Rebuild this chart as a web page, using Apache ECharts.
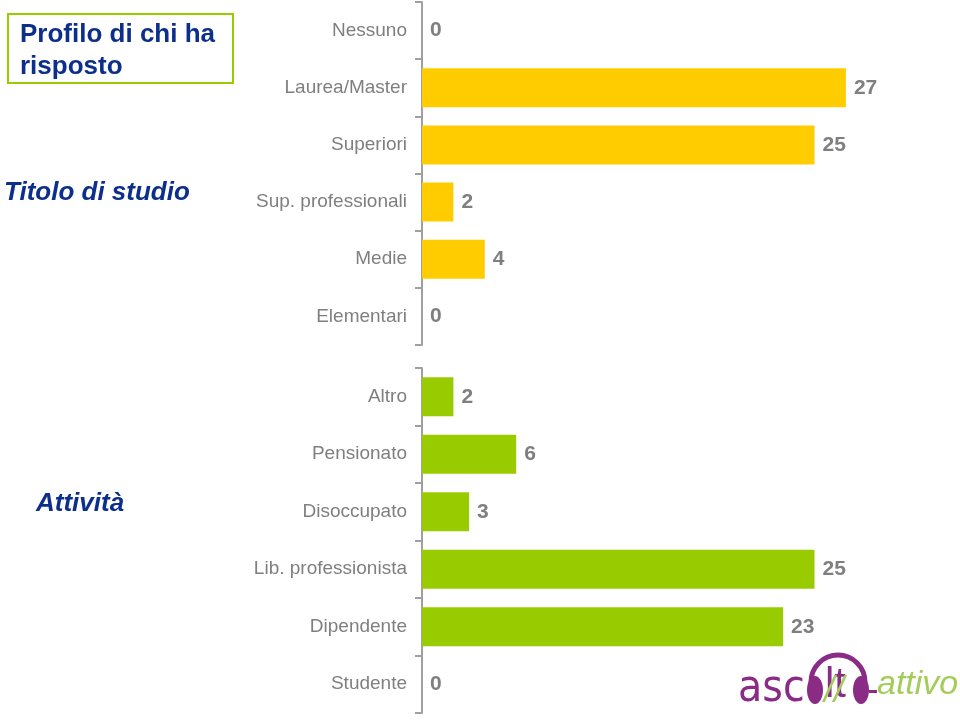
<!DOCTYPE html>
<html><head><meta charset="utf-8">
<script src="https://cdn.jsdelivr.net/npm/echarts@6/dist/echarts.min.js"></script>
<style>html,body{margin:0;padding:0;background:#fff}#c{width:960px;height:721px}</style>
</head><body><div id="c"></div>
<script>
const studioCategories = ['Nessuno','Laurea/Master','Superiori','Sup. professionali','Medie','Elementari'];
const studioValues = [0,27,25,2,4,0];
const attivitaCategories = ['Altro','Pensionato','Disoccupato','Lib. professionista','Dipendente','Studente'];
const attivitaValues = [2,6,3,25,23,0];
const chartTitleLines = ['Profilo di chi ha','risposto'];
const groupLabels = ['Titolo di studio','Attività'];

const blue = '#0d2f8c';
const axisGrey = '#a0a0a0';
const labelGrey = '#7f7f7f';
const purple = '#8a2b86';
const logoGreen = '#a3cc5a';

const chart = echarts.init(document.getElementById('c'), null, {renderer:'canvas'});
function yAx(gi, cats){
  return {type:'category', gridIndex:gi, data:cats, inverse:true,
    axisLine:{show:true, lineStyle:{color:axisGrey, width:2}},
    axisTick:{show:true, length:7, lineStyle:{color:axisGrey, width:2}},
    axisLabel:{color:labelGrey, fontSize:19, fontFamily:'Liberation Sans, Arial', margin:15, padding:[3,0,0,0]},
    splitLine:{show:false}};
}
function xAx(gi){ return {type:'value', gridIndex:gi, min:0, max:30, show:false}; }
function barSeries(i, vals, color){
  return {type:'bar', xAxisIndex:i, yAxisIndex:i, data:vals, barWidth:39,
    itemStyle:{color:color}, animation:false,
    label:{show:true, position:'right', distance:8, color:labelGrey, fontSize:21, fontWeight:'bold', fontFamily:'Liberation Sans, Arial', padding:[3,0,0,0]}};
}
chart.setOption({
  animation:false,
  grid:[{left:422, top:2, width:471, height:343},{left:422, top:368, width:471, height:345}],
  xAxis:[xAx(0), xAx(1)],
  yAxis:[yAx(0, studioCategories), yAx(1, attivitaCategories)],
  series:[barSeries(0, studioValues, '#ffcc00'), barSeries(1, attivitaValues, '#99cc00')],
  graphic:[
    {type:'rect', shape:{x:8, y:14, width:225, height:69}, style:{fill:'#fff', stroke:'#99cc00', lineWidth:2}},
    {type:'text', left:20, top:19, style:{text:chartTitleLines.join('\n'), fill:blue, font:'bold 26px "Liberation Sans", Arial', lineHeight:32}},
    {type:'text', left:4, top:180, style:{text:groupLabels[0], fill:blue, font:'italic bold 26px "Liberation Sans", Arial'}},
    {type:'text', left:36, top:491, style:{text:groupLabels[1], fill:blue, font:'italic bold 26px "Liberation Sans", Arial'}},
    // logo approximation
    {type:'text', left:738, top:668, style:{text:'asc', fill:purple, font:'44px "Liberation Sans Narrow", "DejaVu Sans Condensed", Arial'}},
    {type:'arc', shape:{cx:838, cy:682, r:27, startAngle:Math.PI, endAngle:2*Math.PI}, style:{stroke:purple, lineWidth:5, fill:null}},
    {type:'ellipse', shape:{cx:815, cy:690, rx:8, ry:14}, style:{fill:purple}},
    {type:'ellipse', shape:{cx:861, cy:690, rx:8, ry:14}, style:{fill:purple}},
    {type:'text', left:825, top:664, style:{text:'lt', fill:purple, font:'42px "Liberation Sans Narrow", Arial'}},
    {type:'text', left:824, top:674, style:{text:'//', fill:logoGreen, font:'italic 36px "Liberation Sans", Arial'}},
    {type:'rect', shape:{x:869, y:690, width:8, height:3}, style:{fill:purple}},
    {type:'text', left:877, top:668, style:{text:'attivo', fill:logoGreen, font:'italic 34px "Liberation Sans Narrow", "Liberation Sans", Arial'}}
  ]
});
</script></body></html>
